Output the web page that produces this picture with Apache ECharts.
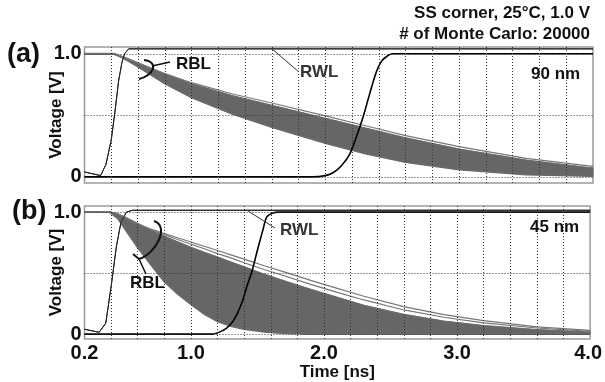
<!DOCTYPE html>
<html>
<head>
<meta charset="utf-8">
<script src="https://cdn.jsdelivr.net/npm/echarts@6.0.0/dist/echarts.min.js"></script>
<style>
  html, body { margin: 0; padding: 0; background: #fff; }
  #chart { width: 605px; height: 382px; }
</style>
</head>
<body>
<div id="chart"></div>
<script>
// tick values
const xLabels = [0.2, 1.0, 2.0, 3.0, 4.0];
const xGrid = [0.4, 0.6, 0.8, 1.0, 1.2, 1.4, 1.6, 1.8, 2.0, 2.2, 2.4, 2.6, 2.8, 3.0, 3.2, 3.4, 3.6, 3.8];
const yLabels = [0, 1.0];
const yGrid = [0, 0.5, 1.0];

// (a) 90 nm
const timeA = [0.2, 0.42, 0.5, 0.6, 0.8, 1.0, 1.3, 1.6, 2.0, 2.3, 2.6, 3.0, 3.5, 4.0];
const rblUpperA = [1.0, 1.0, 0.97, 0.925, 0.835, 0.755, 0.66, 0.58, 0.475, 0.395, 0.315, 0.225, 0.135, 0.07];
const rblLowerA = [1.0, 1.0, 0.96, 0.895, 0.76, 0.645, 0.515, 0.405, 0.275, 0.19, 0.12, 0.06, 0.02, 0.006];
const rblOutA = [1.0, 1.0, 0.97, 0.925, 0.84, 0.765, 0.675, 0.6, 0.495, 0.415, 0.335, 0.245, 0.15, 0.085];
const rwlTimeA = [0.2, 0.32, 0.36, 0.40, 0.43, 0.455, 0.48, 0.50, 0.53, 4.0];
const rwlA = [0.04, 0.01, 0.10, 0.30, 0.55, 0.78, 0.93, 1.0, 1.04, 1.04];
const outTimeA = [0.2, 1.9, 2.0, 2.06, 2.12, 2.18, 2.23, 2.28, 2.33, 2.38, 2.42, 2.46, 2.5, 4.0];
const outA = [0, 0, 0.01, 0.035, 0.09, 0.18, 0.32, 0.48, 0.67, 0.85, 0.94, 0.98, 1.0, 1.0];

// (b) 45 nm
const timeB = [0.2, 0.39, 0.45, 0.5, 0.6, 0.7, 0.8, 0.9, 1.0, 1.1, 1.2, 1.3, 1.4, 1.55, 1.7, 1.9, 2.1, 2.3, 2.6, 2.9, 3.2, 3.6, 4.0];
const rblUpperB = [1.0, 1.0, 0.985, 0.96, 0.905, 0.85, 0.8, 0.755, 0.71, 0.67, 0.63, 0.59, 0.55, 0.49, 0.435, 0.365, 0.3, 0.235, 0.16, 0.105, 0.068, 0.035, 0.015];
const rblLowerB = [1.0, 1.0, 0.95, 0.87, 0.71, 0.57, 0.43, 0.33, 0.245, 0.165, 0.105, 0.067, 0.042, 0.02, 0.008, 0.002, 0, 0, 0, 0, 0, 0, 0];
const rblOut1B = [1.0, 1.0, 0.985, 0.96, 0.905, 0.86, 0.825, 0.79, 0.755, 0.72, 0.685, 0.65, 0.615, 0.56, 0.51, 0.44, 0.375, 0.31, 0.225, 0.16, 0.11, 0.06, 0.03];
const rblOut2B = [1.0, 1.0, 0.985, 0.96, 0.905, 0.857, 0.815, 0.775, 0.737, 0.7, 0.66, 0.625, 0.585, 0.53, 0.478, 0.408, 0.342, 0.28, 0.198, 0.138, 0.092, 0.05, 0.022];
const rwlTimeB = [0.2, 0.31, 0.36, 0.40, 0.44, 0.475, 0.515, 0.56, 4.0];
const rwlB = [0.04, 0.015, 0.09, 0.39, 0.72, 0.92, 1.0, 1.015, 1.015];
const outTimeB = [0.2, 1.16, 1.24, 1.29, 1.34, 1.39, 1.42, 1.46, 1.50, 1.54, 1.57, 1.61, 1.66, 4.0];
const outB = [0, 0, 0.03, 0.07, 0.15, 0.28, 0.39, 0.52, 0.69, 0.85, 0.96, 0.99, 1.0, 1.0];

const FONT = '"Liberation Sans", Arial, sans-serif';
const pairs = (t, v) => t.map((x, i) => [x, v[i]]);

const chart = echarts.init(document.getElementById('chart'));

// the Monte Carlo spread: filled region between upper and lower RBL edges
function bandSeries(idx, t, upper, lower) {
  return {
    type: 'custom',
    xAxisIndex: idx,
    yAxisIndex: idx,
    silent: true,
    z: 2,
    clip: true,
    data: [0],
    renderItem: (params, api) => {
      const top = t.map((x, i) => api.coord([x, upper[i]]));
      const bottom = t.map((x, i) => api.coord([x, lower[i]])).reverse();
      return {
        type: 'group',
        children: [
          {
            type: 'polygon',
            shape: { points: top.concat(bottom) },
            style: { fill: '#666', stroke: '#666', lineWidth: 1 }
          },
          {
            type: 'polyline',
            shape: { points: top },
            style: { fill: null, stroke: '#6a6a6a', lineWidth: 1.5 }
          },
          {
            type: 'polyline',
            shape: { points: bottom },
            style: { fill: null, stroke: '#6a6a6a', lineWidth: 2 }
          }
        ]
      };
    }
  };
}

function panelSeries(idx, t, upper, lower, outs, rwlT, rwl, outT, out) {
  const base = { type: 'line', xAxisIndex: idx, yAxisIndex: idx, showSymbol: false, silent: true };
  const list = [
    {
      ...base,
      data: pairs(rwlT, rwl),
      z: 1,
      lineStyle: { color: '#222', width: 1 },
      markLine: {
        silent: true,
        symbol: 'none',
        label: { show: false },
        lineStyle: { color: '#333', width: 1, type: [1, 2] },
        data: xGrid.map((v) => ({ xAxis: v })).concat(yGrid.map((v) => ({ yAxis: v })))
      }
    },
    bandSeries(idx, t, upper, lower)
  ];
  outs.forEach((o) => {
    list.push({ ...base, data: pairs(t, o), z: 3, lineStyle: { color: '#777', width: 1.2 } });
  });
  list.push({ ...base, data: pairs(rwlT, rwl), z: 4, lineStyle: { color: '#222', width: 1 } });
  list.push({ ...base, data: pairs(outT, out), z: 4, smooth: 0.3, lineStyle: { color: '#000', width: 1.6 } });
  return list;
}

const yAxisBase = {
  type: 'value',
  axisLine: { show: false },
  axisTick: { show: false },
  splitLine: { show: false },
  axisLabel: {
    customValues: yLabels,
    formatter: (v) => (v === 0 ? '0' : v.toFixed(1)),
    color: '#111',
    fontFamily: FONT,
    fontWeight: 'bold',
    fontSize: 20,
    margin: 3
  },
  name: 'Voltage [V]',
  nameLocation: 'middle',
  nameRotate: 90,
  nameGap: 20,
  nameMoveOverlap: false,
  nameTextStyle: { color: '#111', fontFamily: FONT, fontWeight: 'bold', fontSize: 17 }
};

const option = {
  animation: false,
  backgroundColor: '#fff',
  grid: [
    { left: 84.5, right: 12, top: 47, height: 136, show: true, borderColor: '#9a9a9a', borderWidth: 1.5 },
    { left: 84.5, right: 12, top: 206, height: 133, show: true, borderColor: '#9a9a9a', borderWidth: 1.5 }
  ],
  xAxis: [
    {
      type: 'value', gridIndex: 0, min: 0.2, max: 4.0,
      axisLine: { show: false }, axisTick: { show: false }, splitLine: { show: false },
      axisLabel: { show: false }
    },
    {
      type: 'value', gridIndex: 1, min: 0.2, max: 4.0,
      axisLine: { show: false }, axisTick: { show: false }, splitLine: { show: false },
      axisLabel: {
        customValues: xLabels,
        formatter: (v) => (v === 4 ? '{e|4.0}' : v.toFixed(1)),
        rich: { e: { fontFamily: FONT, fontWeight: 'bold', fontSize: 20, color: '#111', padding: [0, 4, 0, 0] } },
        color: '#111', fontFamily: FONT, fontWeight: 'bold', fontSize: 20, margin: 4
      },
      name: 'Time [ns]',
      nameLocation: 'middle',
      nameGap: 25,
      nameTextStyle: { color: '#111', fontFamily: FONT, fontWeight: 'bold', fontSize: 17 }
    }
  ],
  yAxis: [
    { ...yAxisBase, gridIndex: 0, min: -0.05, max: 1.055 },
    { ...yAxisBase, gridIndex: 1, min: -0.04, max: 1.05 }
  ],
  series: [
    ...panelSeries(0, timeA, rblUpperA, rblLowerA, [rblOutA], rwlTimeA, rwlA, outTimeA, outA),
    ...panelSeries(1, timeB, rblUpperB, rblLowerB, [rblOut1B, rblOut2B], rwlTimeB, rwlB, outTimeB, outB)
  ],
  graphic: [
    { type: 'text', right: 15, top: 5, style: { text: 'SS corner, 25°C, 1.0 V', font: 'bold 17px ' + FONT, fill: '#111' } },
    { type: 'text', right: 15, top: 26, style: { text: '# of Monte Carlo: 20000', font: 'bold 17px ' + FONT, fill: '#111' } },
    { type: 'text', left: 7, top: 41, style: { text: '(a)', font: 'bold 27px ' + FONT, fill: '#111' } },
    { type: 'text', left: 12, top: 198, style: { text: '(b)', font: 'bold 27px ' + FONT, fill: '#111' } },
    { type: 'text', left: 531, top: 66, style: { text: '90 nm', font: 'bold 17px ' + FONT, fill: '#111' } },
    { type: 'text', left: 530, top: 219, style: { text: '45 nm', font: 'bold 17px ' + FONT, fill: '#111' } },
    // (a) annotations
    { type: 'text', left: 176, top: 56, z: 10, style: { text: 'RBL', font: 'bold 17px ' + FONT, fill: '#111' } },
    { type: 'text', left: 300, top: 64, z: 10, style: { text: 'RWL', font: 'bold 17px ' + FONT, fill: '#333' } },
    { type: 'bezierCurve', z: 10, shape: { x1: 144, y1: 60, cpx1: 160, cpy1: 62, cpx2: 153, cpy2: 76, x2: 139, y2: 79 }, style: { stroke: '#111', lineWidth: 2, fill: null } },
    { type: 'line', z: 10, shape: { x1: 152, y1: 66, x2: 170, y2: 62 }, style: { stroke: '#111', lineWidth: 1.5 } },
    { type: 'line', z: 10, shape: { x1: 271, y1: 48, x2: 299, y2: 72 }, style: { stroke: '#333', lineWidth: 1 } },
    // (b) annotations
    { type: 'text', left: 130, top: 275, z: 10, style: { text: 'RBL', font: 'bold 17px ' + FONT, fill: '#111' } },
    { type: 'text', left: 280, top: 222, z: 10, style: { text: 'RWL', font: 'bold 17px ' + FONT, fill: '#333' } },
    { type: 'bezierCurve', z: 10, shape: { x1: 154, y1: 221, cpx1: 170, cpy1: 226, cpx2: 156, cpy2: 254, x2: 139, y2: 259 }, style: { stroke: '#111', lineWidth: 2, fill: null } },
    { type: 'line', z: 10, shape: { x1: 139, y1: 259, x2: 133, y2: 254 }, style: { stroke: '#111', lineWidth: 2 } },
    { type: 'line', z: 10, shape: { x1: 139, y1: 259, x2: 146, y2: 274 }, style: { stroke: '#111', lineWidth: 1.5 } },
    { type: 'line', z: 10, shape: { x1: 248, y1: 211, x2: 275, y2: 228 }, style: { stroke: '#333', lineWidth: 1 } }
  ]
};

chart.setOption(option);
</script>
</body>
</html>
